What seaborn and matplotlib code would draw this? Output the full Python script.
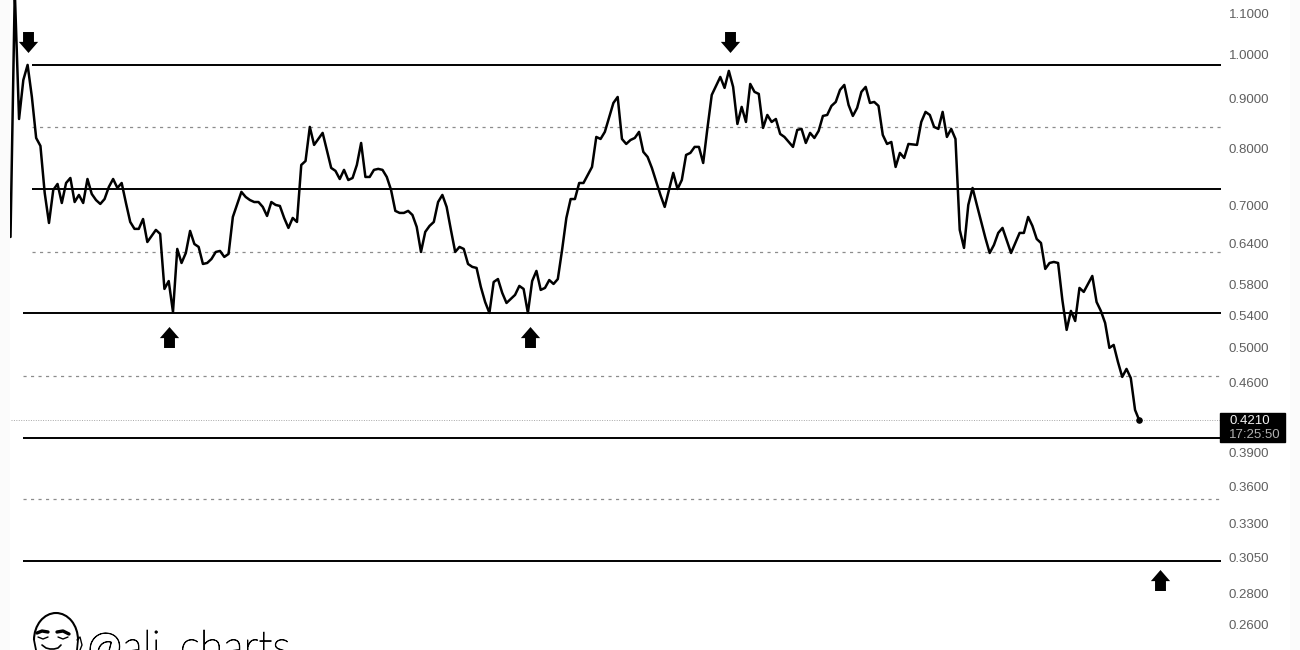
import matplotlib
matplotlib.use('Agg')
import matplotlib.pyplot as plt
import matplotlib.patheffects as pe
import seaborn as sns
from matplotlib.path import Path
from matplotlib.patches import Rectangle, Arc

# close values (bar number + price)
bars = [0, 1, 2, 3, 4, 5, 6, 7, 8, 9, 10, 11, 12, 13, 14, 15, 16, 17, 18, 19, 20, 21, 22, 23, 24, 25, 26, 27, 28, 29,
        30, 31, 32, 34, 35, 36, 37, 38, 39, 40, 41, 42, 43, 44, 45, 46, 47, 48, 49, 50, 51, 52, 54, 55, 56, 57, 58, 59,
        60, 61, 62, 63, 64, 65, 66, 67, 68, 69, 70, 71, 73, 75, 76, 77, 78, 79, 80, 81, 82, 83, 84, 85, 86, 87, 88, 89,
        90, 91, 92, 93, 94, 95, 96, 97, 98, 99, 100, 101, 102, 103, 104, 105, 106, 107, 108, 109, 110, 111, 112, 113,
        114, 115, 116, 118, 119, 120, 121, 122, 123, 124, 125, 126, 127, 128, 129, 130, 131, 132, 133, 134, 136, 137,
        138, 139, 141, 142, 143, 144, 145, 146, 147, 148, 149, 150, 152, 153, 155, 156, 157, 158, 159, 160, 161, 162,
        163, 164, 166, 167, 168, 169, 170, 171, 172, 173, 174, 175, 176, 177, 178, 179, 180, 181, 183, 184, 185, 186,
        187, 188, 189, 190, 191, 192, 193, 194, 195, 196, 197, 198, 199, 200, 201, 202, 203, 204, 205, 206, 207, 208,
        209, 210, 212, 213, 214, 215, 216, 217, 218, 219, 220, 221, 222, 223, 224, 225, 226, 228, 229, 230, 231, 232,
        234, 236, 237, 238, 239, 240, 241, 242, 243, 244, 245, 246, 247, 248, 249, 250, 251, 253, 254, 255, 256, 257,
        258, 259, 260, 261, 262, 263, 264]
closes = [.6493, 1.16, .8578, .9405, .9746, .9036, .8202, .8050, .7203, .6711, .7255, .7358, .7035, .7375, .7463, .7051,
          .7170, .7035, .7445, .7187, .7084, .7019, .7101, .7307, .7445, .7289, .7375, .7035, .6727, .6618,
          .6618, .6774, .6416, .6602, .6540, .5743, .5851, .5440, .6312, .6106, .6252, .6586, .6386, .6342, .6092,
          .6106, .6164, .6267, .6282, .6194, .6238, .6807, .7222, .7136, .7084, .7051, .7051, .6970,
          .6823, .7051, .7003, .6986, .6791, .6633, .6791, .6727, .7696, .7768, .8419, .8069, .8301, .7642, .7589,
          .7445, .7607, .7427, .7463, .7696, .8106, .7481, .7481, .7607, .7625, .7607, .7481, .7255,
          .6905, .6872, .6872, .6905, .6839, .6649, .6267, .6571, .6664, .6727, .7051, .7170, .6970, .6602, .6267,
          .6342, .6312, .6092, .6050, .6035, .5770, .5569, .5427, .5838,
          .5879, .5690, .5556, .5663, .5784, .5743, .5427, .5851, .5993, .5730, .5757, .5865, .5811, .5879, .6297,
          .6791, .7101, .7101, .7375, .7375, .7660, .8222,
          .8183, .8321, .8909, .9036, .8183, .8087, .8163, .8202, .8321, .7937, .7843, .7642, .7170, .6970, .7553,
          .7272, .7427, .7880, .7918, .8031, .8031, .7732,
          .8399, .9079, .9473, .9231, .9609, .9253, .8478, .8826, .8518, .9318, .9145, .9101, .8399, .8660, .8518,
          .8578, .8281, .8222, .8031, .8360, .8380, .8106,
          .8301, .8202, .8340, .8640, .8660, .8847, .8930, .9188, .9296, .8867, .8640, .8805, .9145, .9253, .8909,
          .8930, .8847, .8261, .8087, .8125, .7660, .7918,
          .7824, .8087, .8069, .8518, .8723, .8660, .8419, .8380, .8723, .8222, .8380, .8183, .6602, .6327, .7003,
          .7289, .7003, .6477, .6252, .6372, .6555, .6633,
          .6252, .6555, .6555, .6807, .6664, .6462, .6401, .6021, .6106, .6121, .6106, .5595, .5214, .5453, .5325,
          .5757, .5703, .5922, .5569, .5453, .5300, .4997,
          .5032, .4834, .4666, .4755, .4654, .4316, .4210]

solid_levels = [.9746, .7272, .5427, .4044, .3018]
solid_starts = [5, 5, 3, 3, 3]
dashed_levels = [.8419, .6267, .4676, .3494]
dashed_starts = [5, 5, 3, 3]
last_price = .4210

tick_values = [1.1, 1.0, .9, .8, .7, .64, .58, .54, .50, .46, .39, .36, .33, .305, .28, .26]
tick_labels = ['1.1000', '1.0000', '0.9000', '0.8000', '0.7000', '0.6400', '0.5800', '0.5400', '0.5000', '0.4600',
               '0.3900', '0.3600', '0.3300', '0.3050', '0.2800', '0.2600']

down_bars = [4.1, 168.3]
down_prices = [1.0287, 1.0287]
up_bars = [37, 121.6, 268.9]
up_prices = [.5127, .5127, .2892]

sns.set_theme(style='white')
plt.rcParams['font.family'] = ['Liberation Sans', 'DejaVu Sans']

fig = plt.figure(figsize=(13, 6.5), dpi=100, facecolor='white')
ax = fig.add_axes([0, 0, 1221 / 1300, 1])
ax.patch.set_alpha(0)

sns.lineplot(x=bars, y=closes, color='black', linewidth=1.8, estimator=None, sort=False, ax=ax, zorder=4)
ax.scatter(bars[-1], closes[-1], s=14, color='black', zorder=5)

ax.set_yscale('log')
ax.set_ylim(.24489, 1.1360)
ax.set_xlim(-2.456, 283.1)

# levels
right_bar = 283.1
ax.hlines(solid_levels, solid_starts, right_bar, color='black', linewidth=1.4, zorder=3)
ax.hlines(dashed_levels, dashed_starts, right_bar, color='#8c8c8c', linewidth=0.9, linestyles=(0, (2.5, 3.5)), zorder=2)
ax.hlines(last_price, bars[0], right_bar, color='#a8a8a8', linewidth=0.7, linestyles=(0, (1, 1.5)), zorder=2)

# block arrows
down_arrow = Path([(-.52, 1), (.52, 1), (.52, .06), (.92, .06), (0, -1), (-.92, .06), (-.52, .06), (-.52, 1)])
up_arrow = Path([(-.52, -1), (.52, -1), (.52, -.06), (.92, -.06), (0, 1), (-.92, -.06), (-.52, -.06), (-.52, -1)])
ax.scatter(down_bars, down_prices, marker=down_arrow, s=228, color='black', linewidths=0, zorder=6)
ax.scatter(up_bars, up_prices, marker=up_arrow, s=228, color='black', linewidths=0, zorder=6)

ax.yaxis.tick_right()
ax.set_yticks(tick_values)
ax.set_yticklabels(tick_labels, fontsize=9.5, color='#5f5f5f')
ax.yaxis.set_minor_locator(plt.NullLocator())
ax.tick_params(axis='y', length=0, pad=5.5)
ax.set_xticks([])
ax.set_xlabel('')
ax.set_ylabel('')
for side in ax.spines.values():
    side.set_visible(False)

# overlay in image pixels for the price tag and the watermark
over = fig.add_axes([0, 0, 1, 1], facecolor='none')
over.set_xlim(0, 1300)
over.set_ylim(650, 0)
over.axis('off')

# faint strips at the image edges
over.add_patch(Rectangle((0, 0), 10, 650, color='#fbfbfb', linewidth=0, zorder=0))
over.add_patch(Rectangle((1290, 0), 10, 650, color='#fbfbfb', linewidth=0, zorder=0))

over.add_patch(Rectangle((1220, 412.7), 65, 29.6, color='black', zorder=2))
over.text(1229, 421, '0.4210', color='#f2f2f2', fontsize=9.5, va='center', zorder=3)
over.text(1229, 435, '17:25:50', color='#b0b0b0', fontsize=9.5, va='center', zorder=3)

mark = over.text(87, 661, '@ali_charts', fontsize=31, family=['Lato', 'DejaVu Sans'], fontweight='light', color='black',
                 va='baseline', zorder=3)
mark.set_path_effects([pe.withStroke(linewidth=0.6, foreground='black')])

# head
over.add_patch(Arc((56, 640), 44, 54, theta1=180, theta2=360, color='black', linewidth=1.5))
over.plot([34, 36], [640, 650], color='black', linewidth=1.3)
over.plot([78, 77], [640, 650], color='black', linewidth=1.3)
over.plot([77, 80, 82, 80], [640, 637, 645, 650], color='black', linewidth=1)
over.plot([37, 42, 48], [633, 631, 632], color='black', linewidth=2.4)
over.plot([57, 63, 69], [632, 631, 634], color='black', linewidth=2.4)
over.plot([38, 43, 48], [637, 639, 637], color='black', linewidth=1)
over.plot([58, 63, 68], [637, 639, 637], color='black', linewidth=1)
over.plot([42, 46, 50, 54, 58, 61], [645, 648, 649, 649, 648, 645], color='black', linewidth=1.2)

plt.savefig('out.png', dpi=100)
plt.close()
